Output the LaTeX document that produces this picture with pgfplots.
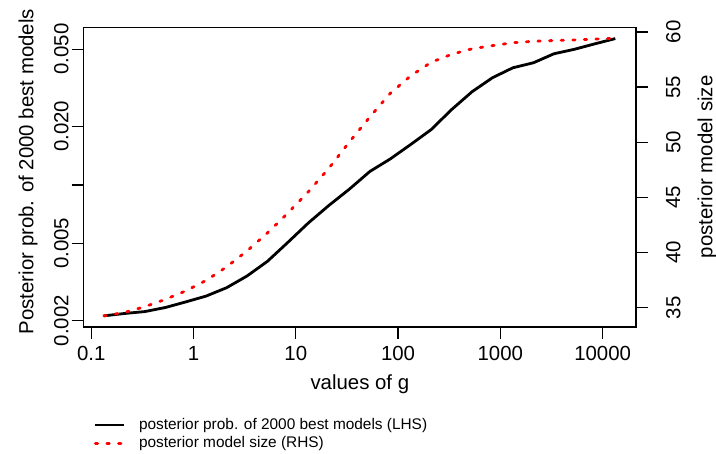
\documentclass[border=0pt]{standalone}
\usepackage{fontspec}
\setmainfont{Liberation Sans}
\usepackage{pgfplots}
\pgfplotsset{compat=1.18}
\usepackage{pgfplotstable}

\pgfplotstableread{
g        prob     size
0.133    0.00212  34.26
0.211    0.00218  34.56
0.334    0.00223  35.09
0.530    0.00234  35.75
0.839    0.00250  36.52
1.33     0.00268  37.47
2.11     0.00296  38.70
3.34     0.00340  40.15
5.30     0.00405  41.79
8.39     0.00507  43.59
13.3     0.00638  45.52
21.1     0.00785  47.65
33.4     0.00951  50.02
53.0     0.01173  52.29
83.9     0.01361  54.43
133      0.01615  56.02
211      0.01928  57.25
334      0.02443  57.97
530      0.03020  58.47
839      0.03565  58.76
1330     0.04010  59.02
2109     0.04254  59.15
3342     0.04732  59.22
5297     0.04990  59.27
8395     0.05323  59.35
13305    0.05665  59.43
}\datatable

\begin{document}
\begin{tikzpicture}
\useasboundingbox (0,0) rectangle (358pt,227pt);
\begin{axis}[
  at={(41.85pt,63.5pt)}, anchor=south west,
  scale only axis, width=276.15pt, height=149.75pt,
  xmode=log, xmin=0.0845, xmax=21200,
  xminorticks=false, yminorticks=false,
  tick align=outside, major tick length=6pt,
  every tick/.style={black, line width=0.6pt},
  axis line style={line width=0.6pt},
  font=\fontsize{10.2}{12}\selectfont,
  /pgf/number format/assume math mode=true,
  clip=false,
  ymode=log, ymin=0.001858, ymax=0.0646,
  xtick={0.1,1,10,100,1000,10000},
  xticklabels={0.1,1,10,100,1000,10000},
  xtick pos=bottom, ytick pos=left,
  ytick={0.002,0.005,0.01,0.02,0.05},
  yticklabels={0.002,0.005,,0.020,0.050},
  yticklabel style={xshift=2pt, rotate=90, anchor=south},
  xlabel={values of g},
  ylabel={Posterior prob. of 2000 best models},
  ylabel style={at={(rel axis cs:0,0.5185)}, anchor=center, yshift=27.85pt},
]
\addplot[black, line width=1.4pt, line join=round] table[x=g, y=prob] {\datatable};
\end{axis}
\begin{axis}[
  at={(41.85pt,63.5pt)}, anchor=south west,
  scale only axis, width=276.15pt, height=149.75pt,
  xmode=log, xmin=0.0845, xmax=21200,
  xminorticks=false, yminorticks=false,
  tick align=outside, major tick length=6pt,
  every tick/.style={black, line width=0.6pt},
  axis line style={line width=0.6pt},
  font=\fontsize{10.2}{12}\selectfont,
  /pgf/number format/assume math mode=true,
  clip=false,
  ymin=33.25, ymax=60.4,
  axis x line=none, axis y line*=right,
  ytick={35,40,45,50,55,60},
  yticklabel style={xshift=5.5pt, rotate=90, anchor=north},
  ylabel={posterior model size},
  ylabel style={at={(rel axis cs:1,0.535)}, anchor=center, yshift=-35.5pt},
  legend style={draw=none, fill=none, inner sep=0pt, outer sep=0pt,
    at={(rel axis cs:0.0185,-0.358)}, anchor=west,
    font=\fontsize{7.7}{9.2}\selectfont, row sep=2pt,
    nodes={inner sep=0pt, text height=5.6pt, text depth=1.6pt},
    /tikz/every odd column/.append style={column sep=7pt}},
  legend cell align=left,
  legend image code/.code={\draw[#1] (0pt,0pt) -- (14.15pt,0pt);},
]
\addlegendimage{black, line width=1.4pt}
\addlegendentry{posterior prob. of 2000 best models (LHS)}
\addplot[red, line width=1.4pt, line cap=round, dash pattern=on 1.2pt off 4.6pt] table[x=g, y=size] {\datatable};
\addlegendentry{posterior model size (RHS)}
\end{axis}
\end{tikzpicture}
\end{document}
